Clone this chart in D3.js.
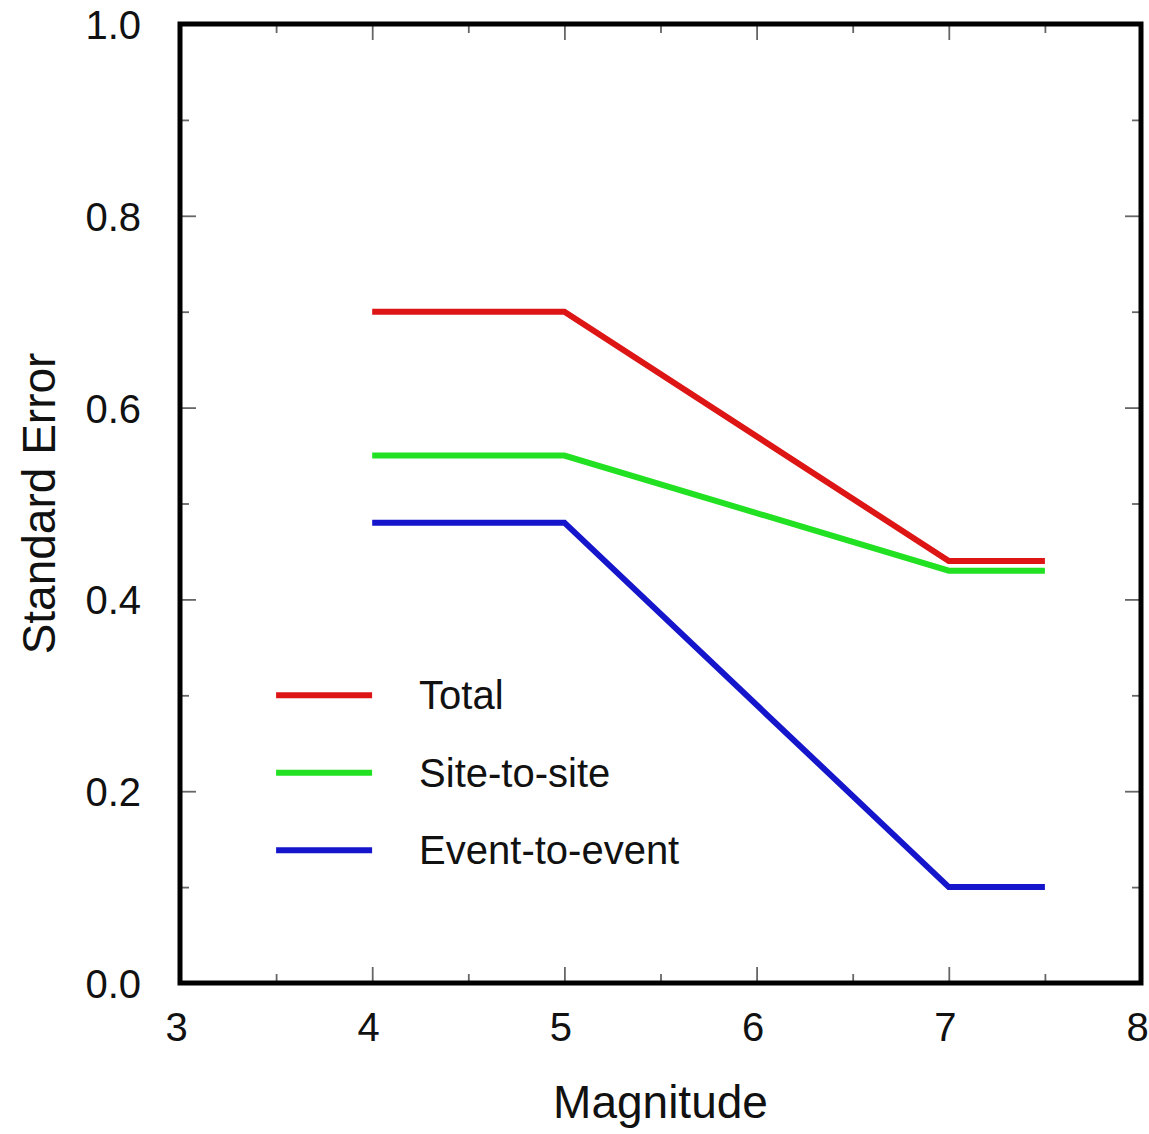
<!DOCTYPE html>
<html>
<head>
<meta charset="utf-8">
<script src="https://cdn.jsdelivr.net/npm/d3@7"></script>
<style>
  html, body { margin: 0; padding: 0; background: #fff; }
  svg text { font-family: "Liberation Sans", Arial, Helvetica, sans-serif; fill: #111; }
</style>
</head>
<body>
<svg id="chart" width="1149" height="1134"></svg>
<script>
// Magnitude breakpoints and standard error components
const magnitudes = [4, 5, 7, 7.5];
const totalError = [0.70, 0.70, 0.44, 0.44];
const siteToSite = [0.55, 0.55, 0.43, 0.43];
const eventToEvent = [0.48, 0.48, 0.10, 0.10];

const seriesNames = ["Total", "Site-to-site", "Event-to-event"];
const seriesColors = ["#dd1515", "#22e022", "#1515cc"];
const seriesValues = [totalError, siteToSite, eventToEvent];

const xTicks = [3, 4, 5, 6, 7, 8];
const yTicks = [0.0, 0.2, 0.4, 0.6, 0.8, 1.0];
const xMinor = [3.5, 4.5, 5.5, 6.5, 7.5];
const yMinor = [0.1, 0.3, 0.5, 0.7, 0.9];

const margin = { left: 180, top: 24, right: 8, bottom: 151 };
const W = 1149, H = 1134;
const iw = W - margin.left - margin.right;
const ih = H - margin.top - margin.bottom;

const svg = d3.select("#chart");
const g = svg.append("g").attr("transform", `translate(${margin.left},${margin.top})`);

const x = d3.scaleLinear().domain([3, 8]).range([0, iw]);
const y = d3.scaleLinear().domain([0, 1]).range([ih, 0]);

// Inward ticks on all four sides
function tickSet(axisGen, values, size, transform) {
  const a = g.append("g").attr("transform", transform)
    .call(axisGen.tickValues(values).tickSize(size).tickFormat(""));
  a.select(".domain").remove();
  a.selectAll(".tick line").attr("stroke", "#666").attr("stroke-width", 1.8);
  return a;
}
tickSet(d3.axisTop(x), xTicks, 16, `translate(0,${ih})`);
tickSet(d3.axisTop(x), xMinor, 9, `translate(0,${ih})`);
tickSet(d3.axisBottom(x), xTicks, 16, `translate(0,0)`);
tickSet(d3.axisBottom(x), xMinor, 9, `translate(0,0)`);
tickSet(d3.axisRight(y), yTicks, 16, `translate(0,0)`);
tickSet(d3.axisRight(y), yMinor, 9, `translate(0,0)`);
tickSet(d3.axisLeft(y), yTicks, 16, `translate(${iw},0)`);
tickSet(d3.axisLeft(y), yMinor, 9, `translate(${iw},0)`);

// Tick labels
const xl = g.append("g").attr("transform", `translate(0,${ih})`)
  .call(d3.axisBottom(x).tickValues(xTicks).tickSize(0).tickPadding(0).tickFormat(d3.format("d")));
xl.select(".domain").remove();
xl.selectAll(".tick text")
  .attr("font-size", 40).attr("y", 44).attr("dy", "0.35em").attr("dx", -4)
  .style("font-family", "'Liberation Sans', Arial, sans-serif").attr("fill", "#111");

const yl = g.append("g")
  .call(d3.axisLeft(y).tickValues(yTicks).tickSize(0).tickPadding(39).tickFormat(d3.format(".1f")));
yl.select(".domain").remove();
yl.selectAll(".tick text")
  .attr("font-size", 40).attr("dy", "0.36em")
  .style("font-family", "'Liberation Sans', Arial, sans-serif").attr("fill", "#111");

// Series lines
const line = d3.line().x(d => x(d[0])).y(d => y(d[1]));
seriesValues.forEach((vals, i) => {
  g.append("path")
    .datum(magnitudes.map((m, j) => [m, vals[j]]))
    .attr("fill", "none")
    .attr("stroke", seriesColors[i])
    .attr("stroke-width", 6)
    .attr("stroke-linejoin", "miter")
    .attr("d", line);
});

// Plot frame
g.append("rect")
  .attr("x", 0).attr("y", 0).attr("width", iw).attr("height", ih)
  .attr("fill", "none").attr("stroke", "#000").attr("stroke-width", 5);

// Legend
const legend = g.append("g").attr("transform", `translate(${x(3.5)},${y(0.3)})`);
seriesNames.forEach((name, i) => {
  const row = legend.append("g").attr("transform", `translate(0,${i * 77.5})`);
  row.append("line").attr("x1", 0).attr("x2", 96).attr("y1", 0).attr("y2", 0)
    .attr("stroke", seriesColors[i]).attr("stroke-width", 6);
  row.append("text").attr("x", 143).attr("y", 0).attr("dy", "0.35em")
    .attr("font-size", 40).text(name);
});

// Axis titles
svg.append("text")
  .attr("x", margin.left + x(5.5)).attr("y", 1118)
  .attr("text-anchor", "middle").attr("font-size", 46).text("Magnitude");
svg.append("text")
  .attr("transform", `translate(55,${margin.top + y(0.5)}) rotate(-90)`)
  .attr("text-anchor", "middle").attr("font-size", 46).text("Standard Error");
</script>
</body>
</html>
